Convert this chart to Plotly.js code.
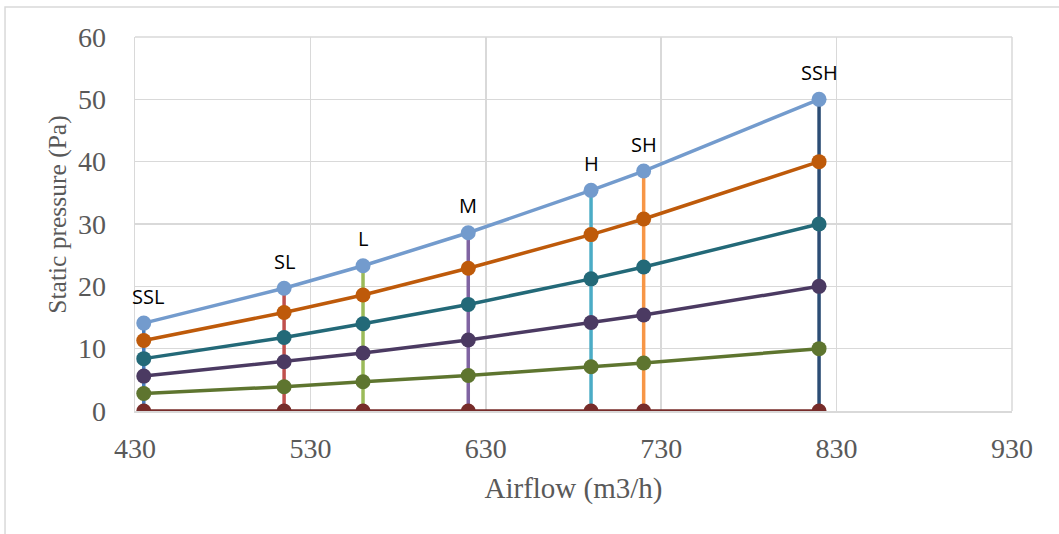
<!DOCTYPE html>
<html>
<head>
<meta charset="utf-8">
<script src="https://cdn.plot.ly/plotly-3.0.1.min.js"></script>
<style>html,body{margin:0;padding:0;background:#fff;}#chart{width:1059px;height:534px;}</style>
</head>
<body>
<div id="chart"></div>
<script>
// Data
const airflow = [435, 515, 560, 620, 690, 720, 820];
const speedLabels = ["SSL", "SL", "L", "M", "H", "SH", "SSH"];
const curve50 = [14.1, 19.7, 23.3, 28.6, 35.4, 38.5, 50];
const curve40 = [11.3, 15.8, 18.6, 22.9, 28.3, 30.8, 40];
const curve30 = [8.4, 11.8, 14.0, 17.1, 21.2, 23.1, 30];
const curve20 = [5.6, 7.9, 9.3, 11.4, 14.2, 15.4, 20];
const curve10 = [2.8, 3.9, 4.7, 5.7, 7.1, 7.7, 10];
const curve0 = [0, 0, 0, 0, 0, 0, 0];
const xTicks = [430, 530, 630, 730, 830, 930];
const yTicks = [0, 10, 20, 30, 40, 50, 60];
const xTitle = "Airflow (m3/h)";
const yTitle = "Static pressure (Pa)";

const verticalColors = ["#4A7EBB", "#C0504D", "#9BBB59", "#8064A2", "#4BACC6", "#F79646", "#2C4D75"];
const curves = [curve0, curve10, curve20, curve30, curve40, curve50];
const curveColors = ["#772C2A", "#5E752F", "#4B3A62", "#236978", "#BE5A0A", "#739BCD"];

const traces = [];
airflow.forEach((x, i) => {
  traces.push({
    x: [x, x], y: [0, curve50[i]], mode: "lines", type: "scatter",
    line: {color: verticalColors[i], width: 3.5}, hoverinfo: "skip", showlegend: false
  });
});
curves.forEach((c, k) => {
  traces.push({
    x: airflow, y: c, mode: "lines+markers", type: "scatter",
    line: {color: curveColors[k], width: 3.5},
    marker: {color: curveColors[k], size: 15},
    showlegend: false
  });
});

const serif = "Liberation Serif, Times New Roman, serif";
const annotations = airflow.map((x, i) => ({
  x: x, y: curve50[i], xref: "x", yref: "y", text: speedLabels[i],
  showarrow: false, yshift: 27, xshift: i === 0 ? 4 : 0,
  font: {family: "Open Sans, Noto Sans, sans-serif", size: 20, color: "#000"}
}));
annotations.push({
  xref: "paper", yref: "paper", x: -0.0878, y: 0.525, xanchor: "center", yanchor: "middle",
  text: yTitle, textangle: -90, showarrow: false,
  font: {family: serif, size: 25.5, color: "#595959"}
});

const layout = {
  width: 1059, height: 534,
  margin: {l: 135, r: 47, t: 37, b: 123},
  paper_bgcolor: "#fff", plot_bgcolor: "#fff",
  showlegend: false,
  xaxis: {
    range: [430, 930], tickvals: xTicks, ticktext: xTicks.map(String),
    showgrid: true, gridcolor: "#D9D9D9", gridwidth: 1.5,
    zeroline: false, showline: true, linecolor: "#D9D9D9", linewidth: 1.5,
    ticks: "", ticklabelstandoff: 12,
    tickfont: {family: serif, size: 28, color: "#595959"},
    title: {text: xTitle, font: {family: serif, size: 29, color: "#595959"}, standoff: 14}
  },
  yaxis: {
    range: [0, 60], tickvals: yTicks, ticktext: yTicks.map(String),
    showgrid: true, gridcolor: "#D9D9D9", gridwidth: 1.5,
    zeroline: false, showline: true, linecolor: "#D9D9D9", linewidth: 1.5,
    ticks: "", ticklabelstandoff: 22,
    tickfont: {family: serif, size: 28, color: "#595959"}
  },
  annotations: annotations,
  shapes: [
    {type: "rect", xref: "paper", yref: "paper", x0: -0.1482, x1: 1.2, y0: -0.4, y1: 1.0802,
     line: {color: "#D9D9D9", width: 1.5}, fillcolor: "rgba(0,0,0,0)", layer: "below"},
    {type: "line", xref: "paper", yref: "paper", x0: 1, x1: 1, y0: 0, y1: 1,
     line: {color: "#D9D9D9", width: 1.5}, layer: "below"},
    {type: "line", xref: "paper", yref: "paper", x0: 0, x1: 1, y0: 1, y1: 1,
     line: {color: "#D9D9D9", width: 1.5}, layer: "below"}
  ]
};

Plotly.newPlot("chart", traces, layout, {displayModeBar: false, staticPlot: true});
</script>
</body>
</html>
